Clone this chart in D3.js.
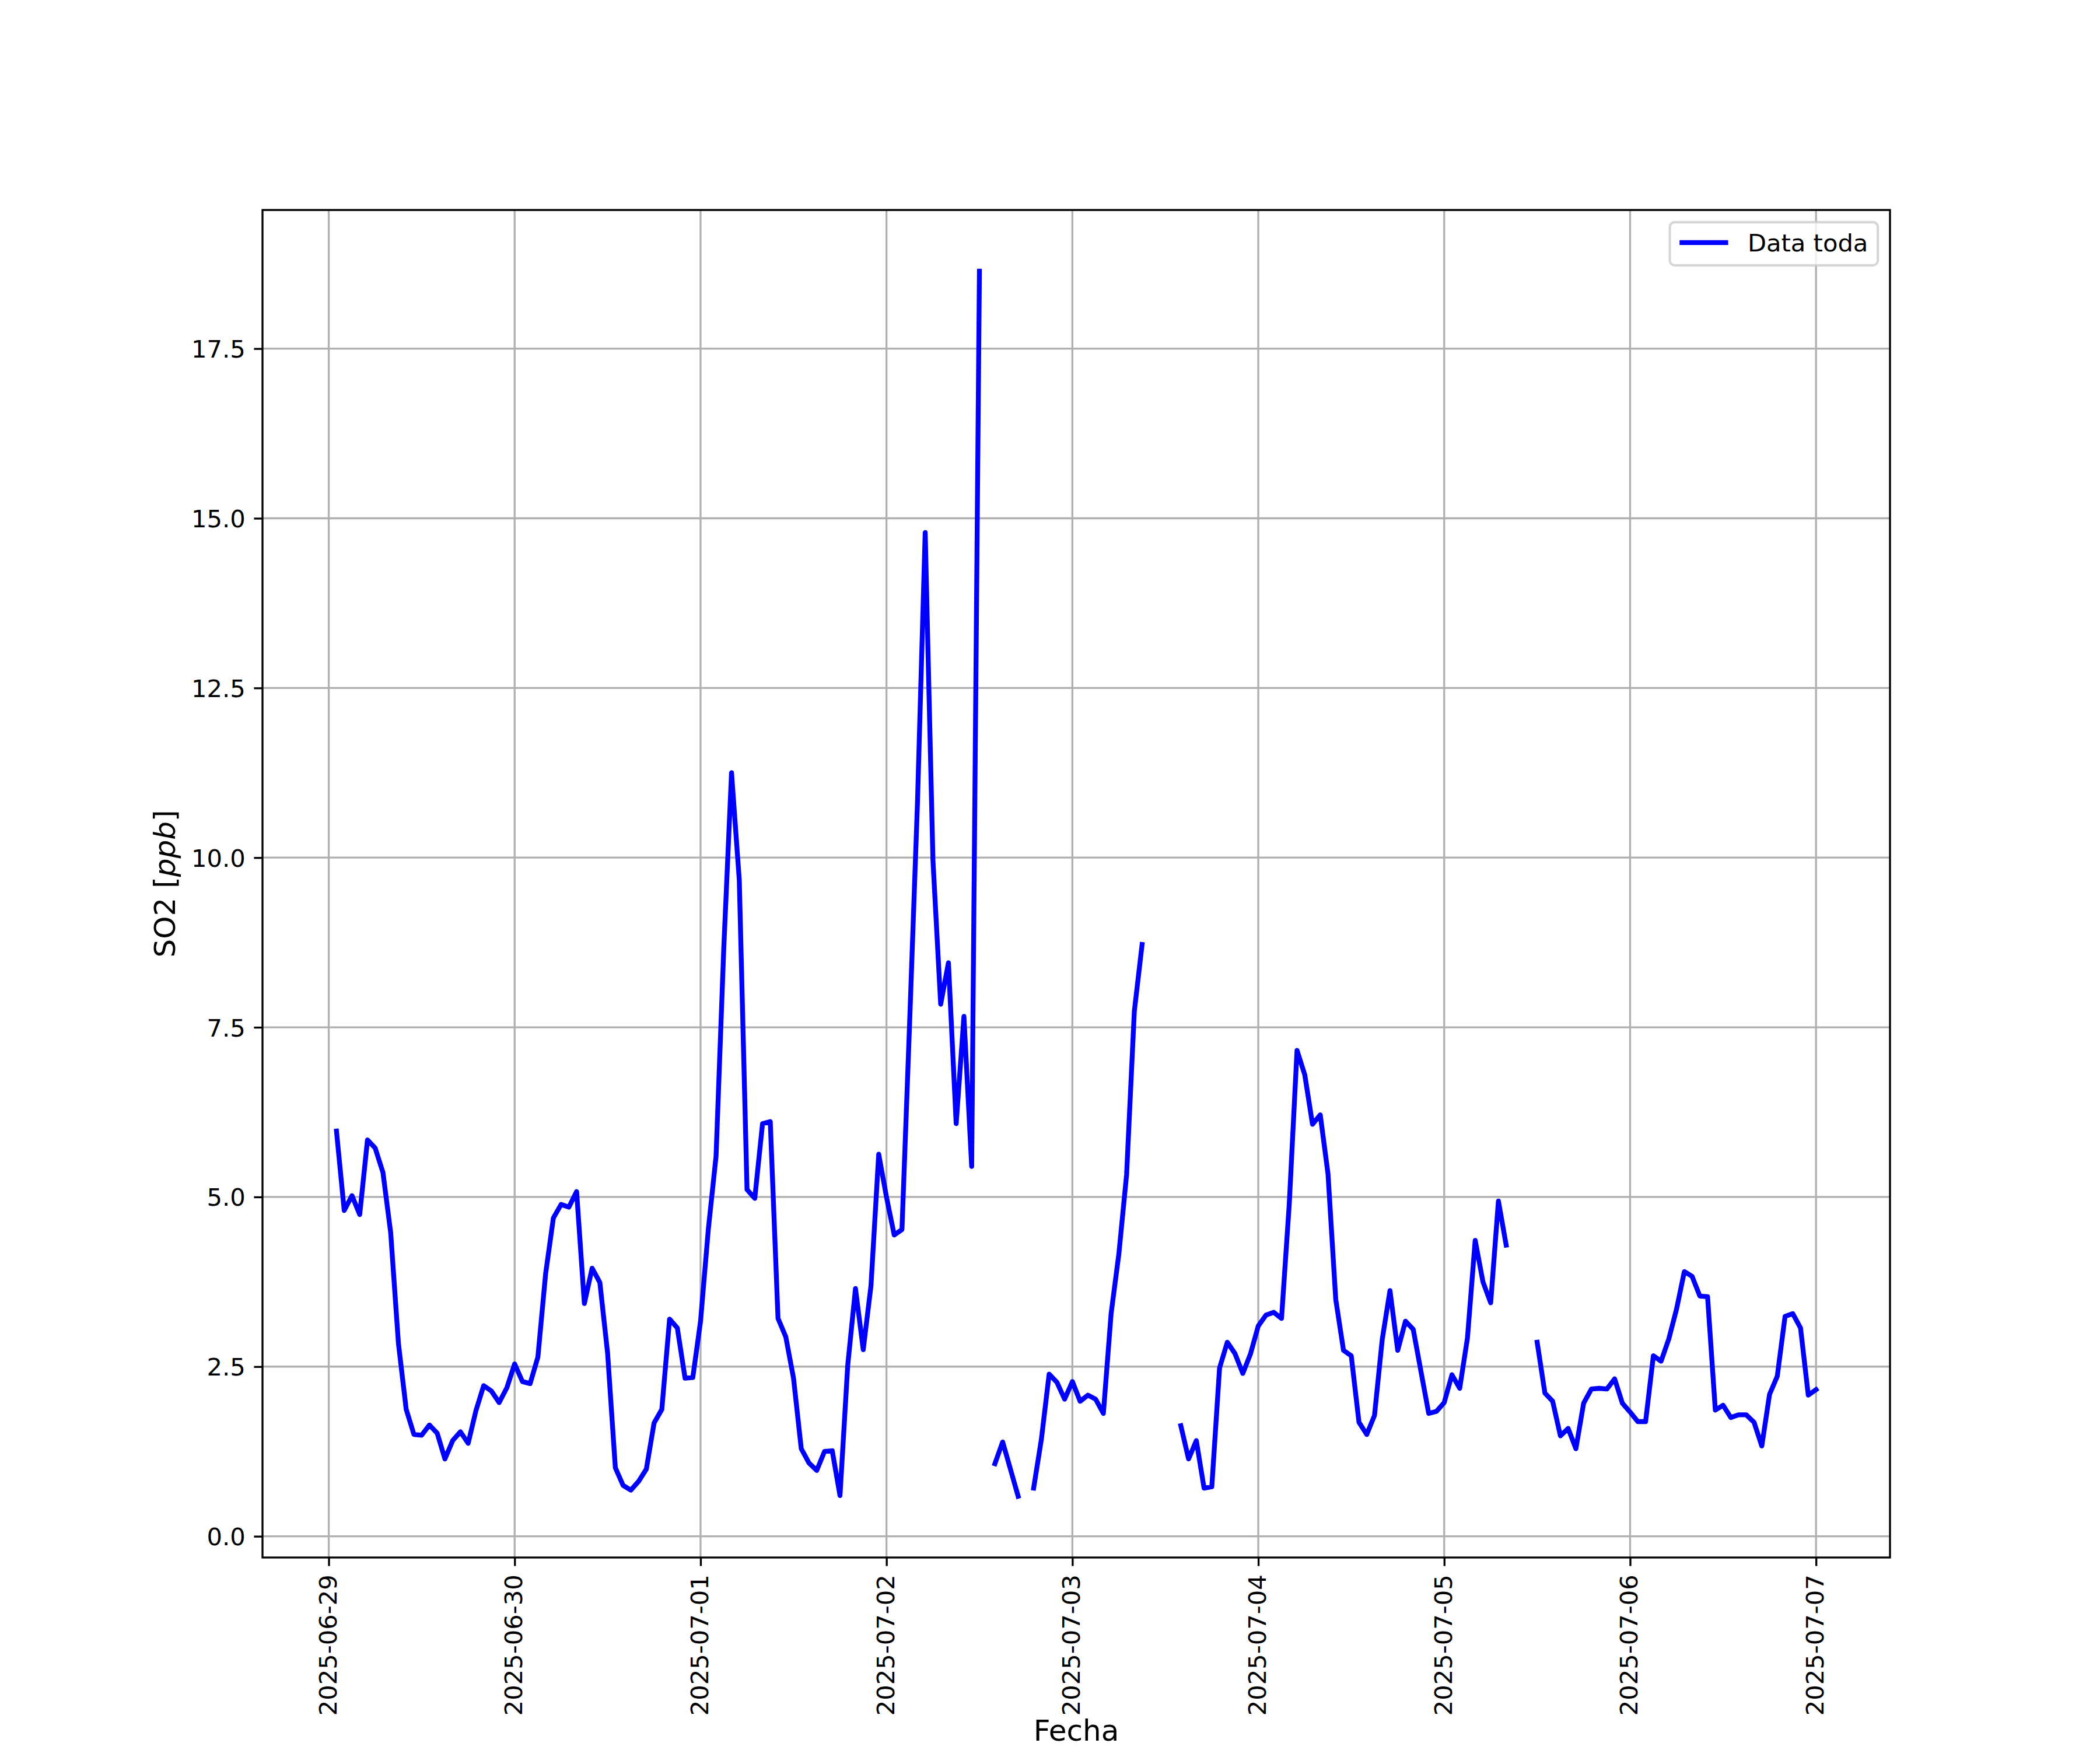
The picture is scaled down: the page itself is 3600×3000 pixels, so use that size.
<!DOCTYPE html>
<html><head><meta charset="utf-8">
<script src="https://cdn.jsdelivr.net/npm/d3@7"></script>
<style>body{margin:0;background:#fff} text{font-family:"DejaVu Sans",sans-serif}</style>
</head><body><svg id="c" width="3600" height="3000"></svg>
<script>
// ---- Data (hourly SO2, ppb; null = missing) ----
const dayLabels = ["2025-06-29","2025-06-30","2025-07-01","2025-07-02","2025-07-03","2025-07-04","2025-07-05","2025-07-06","2025-07-07"];
const firstHourOfDay = [1,0,0,0,0,0,0,0,0];
// 2025-06-29 starts at 01:00
const so2_0629 = [5.97,4.80,5.02,4.74,5.84,5.72,5.36,4.47,2.84,1.87,1.50,1.49,1.64,1.52,1.14,1.41,1.54,1.37,1.85,2.22,2.14,1.97,2.19];
const so2_0630 = [2.54,2.28,2.25,2.64,3.87,4.69,4.89,4.85,5.08,3.43,3.95,3.74,2.70,1.01,0.75,0.68,0.81,0.99,1.67,1.87,3.20,3.07,2.33,2.34];
const so2_0701 = [3.17,4.52,5.60,8.67,11.25,9.67,5.11,4.98,6.08,6.11,3.21,2.94,2.33,1.29,1.08,0.97,1.25,1.26,0.60,2.52,3.65,2.75,3.69,5.63];
const so2_0702 = [5.00,4.44,4.52,7.60,10.80,14.79,9.96,7.84,8.45,6.08,7.66,5.45,18.64,null,1.07,1.39,0.99,0.59,null,0.71,1.43,2.39,2.27,2.02];
const so2_0703 = [2.28,1.99,2.08,2.02,1.81,3.28,4.16,5.33,7.74,8.72,null,null,null,null,1.63,1.14,1.41,0.71,0.73,2.48,2.86,2.69,2.40,2.69];
const so2_0704 = [3.10,3.26,3.30,3.21,4.90,7.16,6.80,6.07,6.21,5.34,3.49,2.74,2.66,1.68,1.50,1.78,2.90,3.62,2.74,3.17,3.05,2.43,1.81,1.84];
const so2_0705 = [1.97,2.38,2.18,2.92,4.36,3.75,3.44,4.94,4.29,null,null,null,2.86,2.11,1.99,1.48,1.59,1.29,1.96,2.17,2.18,2.17,2.32,1.96];
const so2_0706 = [1.83,1.69,1.69,2.66,2.58,2.91,3.35,3.90,3.83,3.54,3.53,1.86,1.93,1.75,1.79,1.79,1.68,1.33,2.09,2.36,3.24,3.28,3.07,2.08];
const so2_0707 = [2.16];
const yTickValues = [0, 2.5, 5, 7.5, 10, 12.5, 15, 17.5];
const seriesName = "Data toda";
const xLabel = "Fecha";

// ---- Build table ----
const dayArrays = [so2_0629, so2_0630, so2_0701, so2_0702, so2_0703, so2_0704, so2_0705, so2_0706, so2_0707];
const parseDay = d3.utcParse("%Y-%m-%d");
const data = [];
dayArrays.forEach((arr, i) => {
  const base = parseDay(dayLabels[i]).getTime();
  arr.forEach((v, j) => data.push({t: new Date(base + (firstHourOfDay[i] + j) * 3600e3), v}));
});

// ---- Layout (matplotlib 12x10in @300dpi defaults) ----
const W = 3600, H = 3000;
const L = 450, R = 3240, T = 360, B = 2670;
const pt = 300 / 72;
const fs = 10 * pt;
const fsLabel = 12 * pt;
const svg = d3.select("#c");
svg.append("rect").attr("width", W).attr("height", H).attr("fill", "#fff");

const tExt = d3.extent(data, d => d.t);
const tPad = (tExt[1] - tExt[0]) * 0.05;
const x = d3.scaleUtc().domain([new Date(+tExt[0] - tPad), new Date(+tExt[1] + tPad)]).range([L, R]);
const valid = data.filter(d => d.v != null);
const vExt = d3.extent(valid, d => d.v);
const vPad = (vExt[1] - vExt[0]) * 0.05;
const y = d3.scaleLinear().domain([vExt[0] - vPad, vExt[1] + vPad]).range([B, T]);

const xTicks = dayLabels.map(parseDay);

// grid
const grid = svg.append("g").attr("stroke", "#b0b0b0").attr("stroke-width", 0.8 * pt);
grid.selectAll("line.gx").data(xTicks).join("line").attr("class", "gx")
  .attr("x1", d => x(d)).attr("x2", d => x(d)).attr("y1", T).attr("y2", B);
grid.selectAll("line.gy").data(yTickValues).join("line").attr("class", "gy")
  .attr("y1", d => y(d)).attr("y2", d => y(d)).attr("x1", L).attr("x2", R);

// line
svg.append("defs").append("clipPath").attr("id", "clip")
  .append("rect").attr("x", L).attr("y", T).attr("width", R - L).attr("height", B - T);
const line = d3.line().defined(d => d.v != null).x(d => x(d.t)).y(d => y(d.v));
svg.append("path").datum(data).attr("clip-path", "url(#clip)")
  .attr("d", line).attr("fill", "none").attr("stroke", "#0000ff")
  .attr("stroke-width", 2 * pt).attr("stroke-linejoin", "round").attr("stroke-linecap", "square");

// axes
const tickLen = 3.5 * pt, tickPad = 3.5 * pt;
const xAxis = d3.axisBottom(x).tickValues(xTicks).tickFormat(d3.utcFormat("%Y-%m-%d"))
  .tickSize(tickLen).tickPadding(tickPad);
const gx = svg.append("g").attr("transform", `translate(0,${B})`).call(xAxis);
gx.select(".domain").remove();
gx.selectAll(".tick line").attr("stroke", "#000").attr("stroke-width", 0.8 * pt);
gx.selectAll(".tick text").attr("font-size", fs).attr("font-family", "DejaVu Sans").attr("fill", "#000")
  .attr("transform", "rotate(-90)").attr("text-anchor", "end")
  .attr("x", -(tickLen + tickPad)).attr("y", 0).attr("dy", "0.3em");

const yAxis = d3.axisLeft(y).tickValues(yTickValues).tickFormat(d3.format(".1f"))
  .tickSize(tickLen).tickPadding(tickPad);
const gy = svg.append("g").attr("transform", `translate(${L},0)`).call(yAxis);
gy.select(".domain").remove();
gy.selectAll(".tick line").attr("stroke", "#000").attr("stroke-width", 0.8 * pt);
gy.selectAll(".tick text").attr("font-size", fs).attr("font-family", "DejaVu Sans").attr("fill", "#000")
  .attr("dy", "0.36em");

// spines
svg.append("rect").attr("x", L).attr("y", T).attr("width", R - L).attr("height", B - T)
  .attr("fill", "none").attr("stroke", "#000").attr("stroke-width", 0.8 * pt);

// axis labels
svg.append("text").attr("x", (L + R) / 2).attr("y", 2984).attr("text-anchor", "middle")
  .attr("font-size", fsLabel).text(xLabel);
const yl = svg.append("text").attr("transform", `translate(300,${(T + B) / 2}) rotate(-90)`)
  .attr("text-anchor", "middle").attr("font-size", fsLabel);
yl.append("tspan").text("SO2 [");
yl.append("tspan").attr("font-style", "italic").text("ppb");
yl.append("tspan").text("]");

// legend
const lgW = 356.6, lgH = 74, lgR = R - 0.5 * fs, lgT = T + 0.5 * fs;
const lg = svg.append("g");
lg.append("rect").attr("x", lgR - lgW).attr("y", lgT).attr("width", lgW).attr("height", lgH)
  .attr("rx", 0.2 * fs).attr("fill", "#fff").attr("fill-opacity", 0.8)
  .attr("stroke", "#cccccc").attr("stroke-opacity", 0.8).attr("stroke-width", 1 * pt);
const hx0 = lgR - lgW + 0.4 * fs;
lg.append("line").attr("x1", hx0).attr("x2", hx0 + 2 * fs).attr("y1", lgT + 35).attr("y2", lgT + 35)
  .attr("stroke", "#0000ff").attr("stroke-width", 2 * pt);
lg.append("text").attr("x", hx0 + 2.8 * fs).attr("y", lgT + 50).attr("font-size", fs).attr("fill", "#000")
  .text(seriesName);
</script></body></html>
